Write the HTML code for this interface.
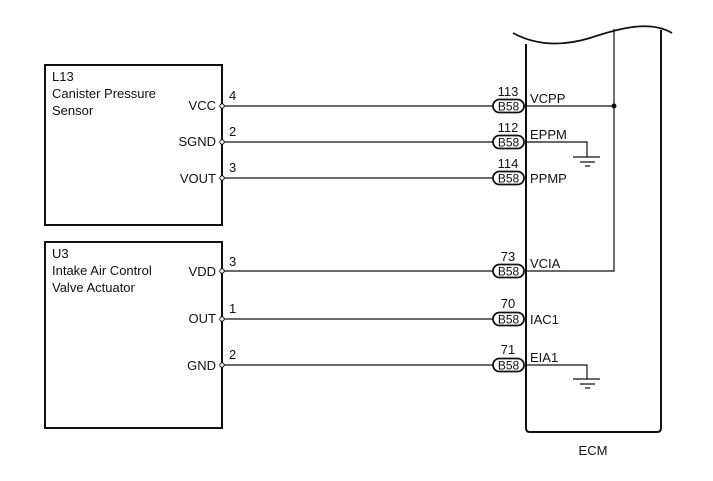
<!DOCTYPE html>
<html><head><style>body{margin:0;background:#fff}svg{display:block}text{font-family:"Liberation Sans",sans-serif;font-size:13px;fill:#111}</style></head><body>
<svg width="713" height="481" viewBox="0 0 713 481">
<g fill="none" stroke="#111">
<rect x="45" y="65" width="177" height="160" stroke-width="2"/>
<rect x="45" y="242" width="177" height="186" stroke-width="2"/>
<path d="M526 44 V428 Q526 432 530 432 H657 Q661 432 661 428 V30" stroke-width="2"/>
<path d="M513 33 C535 45,560 47,590 38 C620 28,650 20,672 33" stroke-width="1.8"/>
<path d="M614 29 V271 H526" stroke-width="1.2"/>
<g stroke-width="1.2">
<line x1="222" y1="106" x2="493" y2="106"/><line x1="524" y1="106" x2="614" y2="106"/>
<line x1="222" y1="142" x2="493" y2="142"/>
<line x1="222" y1="178" x2="493" y2="178"/>
<line x1="222" y1="271" x2="493" y2="271"/>
<line x1="222" y1="319" x2="493" y2="319"/>
<line x1="222" y1="365" x2="493" y2="365"/>
<path d="M526 142 H587 V157 M573 157 H600 M580 162 H595 M585 166 H590"/>
<path d="M526 365 H587 V379 M573 379 H600 M580 384 H595 M585 388 H590"/>
</g>
<g stroke-width="1.8">
<rect x="493" y="99.5" width="31" height="13" rx="6.5"/>
<rect x="493" y="135.5" width="31" height="13" rx="6.5"/>
<rect x="493" y="171.5" width="31" height="13" rx="6.5"/>
<rect x="493" y="264.5" width="31" height="13" rx="6.5"/>
<rect x="493" y="312.5" width="31" height="13" rx="6.5"/>
<rect x="493" y="358.5" width="31" height="13" rx="6.5"/>
</g>
<g fill="#fff" stroke-width="1">
<circle cx="222" cy="106" r="2.2"/><circle cx="222" cy="142" r="2.2"/><circle cx="222" cy="178" r="2.2"/>
<circle cx="222" cy="271" r="2.2"/><circle cx="222" cy="319" r="2.2"/><circle cx="222" cy="365" r="2.2"/>
</g>
</g>
<circle cx="614" cy="106" r="2.5" fill="#111"/>
<text x="52" y="81">L13</text><text x="52" y="98">Canister Pressure</text><text x="52" y="115">Sensor</text>
<text x="52" y="258">U3</text><text x="52" y="275">Intake Air Control</text><text x="52" y="292">Valve Actuator</text>
<g text-anchor="end">
<text x="216" y="110">VCC</text><text x="216" y="146">SGND</text><text x="216" y="183">VOUT</text>
<text x="216" y="276">VDD</text><text x="216" y="323">OUT</text><text x="216" y="370">GND</text>
</g>
<g>
<text x="229" y="100">4</text><text x="229" y="136">2</text><text x="229" y="172">3</text>
<text x="229" y="266">3</text><text x="229" y="313">1</text><text x="229" y="359">2</text>
</g>
<g text-anchor="middle">
<text x="508" y="96">113</text><text x="508" y="132">112</text><text x="508" y="168">114</text>
<text x="508" y="261">73</text><text x="508" y="308">70</text><text x="508" y="354">71</text>
<g font-size="12"><text x="508.5" y="110.5" style="font-size:12px">B58</text><text x="508.5" y="146.5" style="font-size:12px">B58</text><text x="508.5" y="182.5" style="font-size:12px">B58</text><text x="508.5" y="275.5" style="font-size:12px">B58</text><text x="508.5" y="323.5" style="font-size:12px">B58</text><text x="508.5" y="369.5" style="font-size:12px">B58</text></g>
<text x="593" y="455">ECM</text>
</g>
<text x="530" y="103">VCPP</text><text x="530" y="139">EPPM</text><text x="530" y="183">PPMP</text>
<text x="530" y="268">VCIA</text><text x="530" y="324">IAC1</text><text x="530" y="362">EIA1</text>
</svg>
</body></html>
